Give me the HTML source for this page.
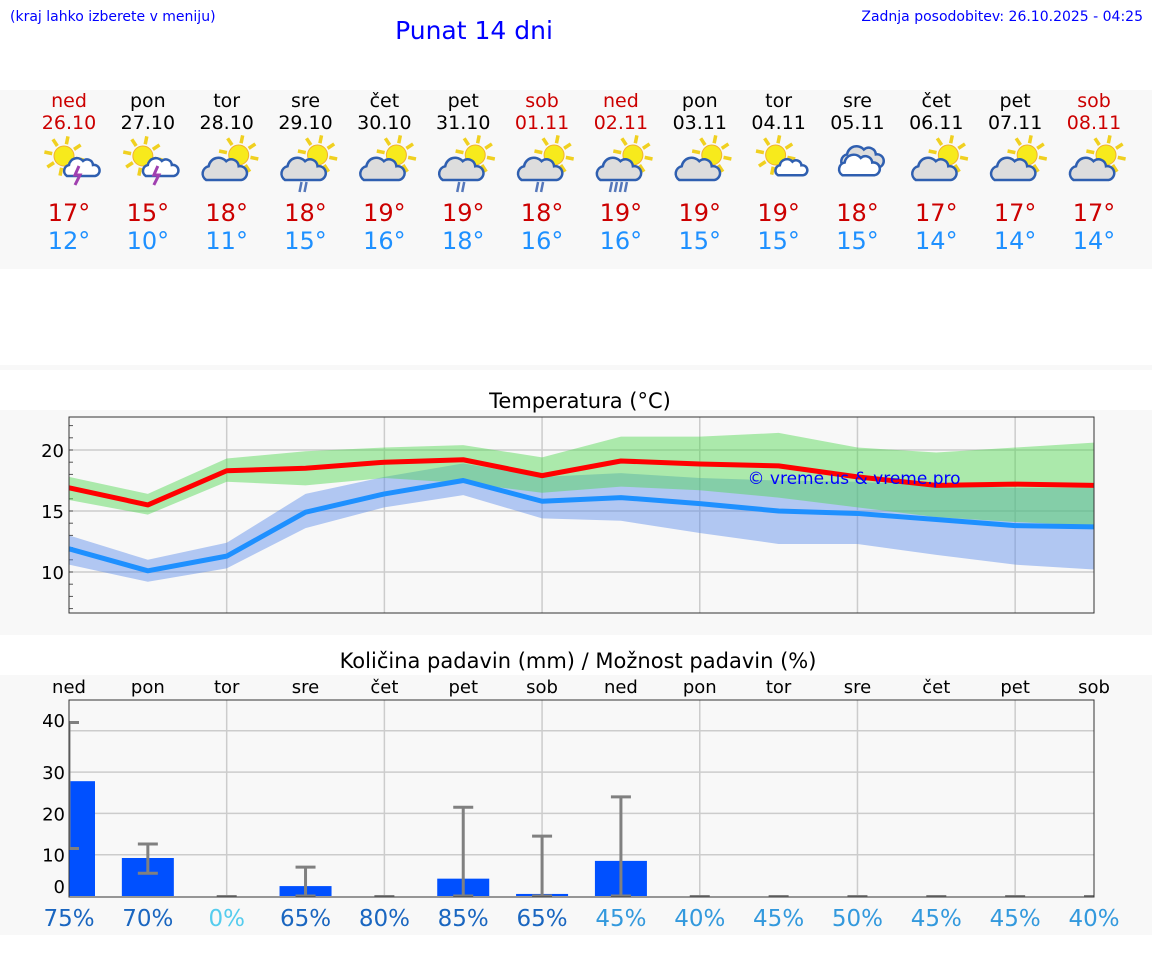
<!DOCTYPE html>
<html><head><meta charset="utf-8">
<style>
html,body{margin:0;padding:0;background:#fff;}
svg text{font-family:"DejaVu Sans","Liberation Sans",sans-serif;}
</style></head>
<body>
<svg id="page" width="1152" height="975" viewBox="0 0 1152 975" xmlns="http://www.w3.org/2000/svg">
<rect x="0" y="0" width="1152" height="975" fill="#fff"/>
<text x="10" y="21" font-size="14" fill="#0000ff" font-family="Liberation Sans">(kraj lahko izberete v meniju)</text>
<text x="474" y="39" font-size="25" fill="#0000ff" text-anchor="middle" font-family="Liberation Sans">Punat 14 dni</text>
<text x="1143" y="21" font-size="14" fill="#0000ff" text-anchor="end" font-family="Liberation Sans">Zadnja posodobitev: 26.10.2025 - 04:25</text>
<rect x="0" y="90" width="1152" height="179" fill="#f8f8f8"/>
<rect x="0" y="365" width="1152" height="5" fill="#f8f8f8"/>
<g id="days"></g>
<rect x="0" y="410" width="1152" height="225" fill="#f8f8f8"/>
<text x="580" y="408" font-size="21" text-anchor="middle" fill="#000">Temperatura (°C)</text>
<g id="temp"></g>
<rect x="0" y="675" width="1152" height="260" fill="#f8f8f8"/>
<text x="578" y="668" font-size="21" text-anchor="middle" fill="#000">Količina padavin (mm) / Možnost padavin (%)</text>
<g id="prec"></g>
</svg>
<script>
const dayNames=["ned","pon","tor","sre","čet","pet","sob","ned","pon","tor","sre","čet","pet","sob"];
const dates=["26.10","27.10","28.10","29.10","30.10","31.10","01.11","02.11","03.11","04.11","05.11","06.11","07.11","08.11"];
const weekend=[1,0,0,0,0,0,1,1,0,0,0,0,0,1];
const iconTypes=["sunstorm","sunstorm","cloudsun","rain","cloudsun","rain","rain","heavyrain","cloudsun","sunsmallcloud","overcast","cloudsun","cloudsun","cloudsun"];
const maxT=[17,15,18,18,19,19,18,19,19,19,18,17,17,17];
const minT=[12,10,11,15,16,18,16,16,15,15,15,14,14,14];
const tMax=[16.9,15.5,18.3,18.5,19.0,19.2,17.9,19.1,18.85,18.7,17.8,17.1,17.2,17.1];
const tMaxHi=[17.8,16.4,19.3,19.9,20.2,20.4,19.4,21.1,21.1,21.4,20.2,19.8,20.2,20.6];
const tMaxLo=[15.9,14.7,17.4,17.1,17.7,17.3,16.5,17.0,16.7,16.1,15.3,14.5,14.1,13.8];
const tMin=[11.9,10.1,11.3,14.9,16.4,17.5,15.8,16.1,15.6,15.0,14.8,14.3,13.8,13.7];
const tMinHi=[13.0,11.0,12.4,16.4,17.8,18.9,17.8,18.1,17.7,17.5,17.4,17.1,16.9,16.9];
const tMinLo=[10.6,9.2,10.3,13.6,15.3,16.3,14.4,14.2,13.2,12.3,12.3,11.4,10.6,10.2];
const tTicks=[10,15,20];
const precip=[27.8,9.2,0,2.4,0,4.2,0.5,8.5,0,0,0,0,0,0];
const precLo=[11.5,5.5,0,0,0,0,0,0,0,0,0,0,0,0];
const precHi=[42,12.6,0,7,0,21.5,14.5,24,0,0,0,0,0,0];
const chance=[75,70,0,65,80,85,65,45,40,45,50,45,45,40];
const pTicks=[0,10,20,30,40];

const NS="http://www.w3.org/2000/svg";
function mk(tag,attrs,parent,txt){const e=document.createElementNS(NS,tag);for(const k in attrs)e.setAttribute(k,attrs[k]);if(txt!==undefined)e.textContent=txt;parent.appendChild(e);return e;}
const X0=69,X1=1094,N=14;
const xd=i=>X0+i*(X1-X0)/(N-1);

// ---- day header
const gd=document.getElementById('days');
function sun(g,cx,cy,r){
  for(let k=0;k<8;k++){const a=k*Math.PI/4+0.2;mk('line',{x1:cx+Math.cos(a)*(r+2),y1:cy+Math.sin(a)*(r+2),x2:cx+Math.cos(a)*(r+10),y2:cy+Math.sin(a)*(r+10),stroke:'#f0d020','stroke-width':3.5},g);}
  mk('circle',{cx:cx,cy:cy,r:r,fill:'#f7ea1c',stroke:'#f0b030','stroke-width':1},g);
}
function cloud(g,cx,cy,s,fill){
  mk('path',{d:`M${cx-14*s} ${cy+8*s} a${6*s} ${6*s} 0 0 1 ${2*s} ${-11*s} a${8*s} ${8*s} 0 0 1 ${14*s} ${-4*s} a${6*s} ${6*s} 0 0 1 ${10*s} ${4*s} a${5*s} ${5*s} 0 0 1 ${2*s} ${11*s} z`,fill:fill,stroke:'#2f5fb0','stroke-width':2.5},g);
}
for(let i=0;i<N;i++){
  const x=xd(i);
  const g=mk('g',{},gd);
  
  
  const col=weekend[i]?'#cc0000':'#000';
  const t1=mk('text',{x:x,y:107,'font-size':19,'text-anchor':'middle',fill:col},g,dayNames[i]);
  
  
  const t2=mk('text',{x:x,y:129,'font-size':19,'text-anchor':'middle',fill:col},g,dates[i]);
  
  
  const ic=mk('g',{},g);
  
  
  const ty=iconTypes[i];
  if(ty==='sunstorm'){sun(ic,x-5,156,10);cloud(ic,x+12,168,1.0,'#fff');mk('path',{d:`M${x+10} 166 l-4 9 h5 l-5 10`,stroke:'#a040b0','stroke-width':3,fill:'none'},ic);}
  else if(ty==='sunsmallcloud'){sun(ic,x-3,155,10);cloud(ic,x+12,168,0.9,'#fff');}
  else if(ty==='overcast'){cloud(ic,x+4,158,1.2,'#ddd');cloud(ic,x+1,166,1.15,'#fff');}
  else{sun(ic,x+12,155,10);cloud(ic,x-3,170,1.25,'#ddd');
    if(ty==='rain'){mk('path',{d:`M${x-4} 182 l-2 10 M${x+1} 182 l-2 10`,stroke:'#5577bb','stroke-width':2.5},ic);}
    if(ty==='heavyrain'){mk('path',{d:`M${x-9} 182 l-2 10 M${x-4} 182 l-2 10 M${x+1} 182 l-2 10 M${x+6} 182 l-2 10`,stroke:'#5577bb','stroke-width':2.5},ic);}
  }
  const a=mk('text',{x:x,y:221,'font-size':24,'text-anchor':'middle',fill:'#cc0000'},g,maxT[i]+'°');
  
  
  const b=mk('text',{x:x,y:249,'font-size':24,'text-anchor':'middle',fill:'#1e90ff'},g,minT[i]+'°');
  
  
}

// ---- temperature chart
const gt=document.getElementById('temp');
const TY0=417,TY1=613;
const ty=v=>450-(v-20)*12.2;
mk('rect',{x:X0,y:TY0,width:X1-X0,height:TY1-TY0,fill:'#f8f8f8'},gt);
for(let i=2;i<N-1;i+=2){mk('line',{x1:xd(i),y1:TY0,x2:xd(i),y2:TY1,stroke:'#ccc','stroke-width':1.5},gt);}
tTicks.forEach(v=>{mk('line',{x1:X0,y1:ty(v),x2:X1,y2:ty(v),stroke:'#ccc','stroke-width':1.5},gt);
  const t=mk('text',{x:X0-5,y:ty(v)+7,'font-size':18,'text-anchor':'end',fill:'#000'},gt,String(v));
  
  });
for(let v=7;v<=22;v++){mk('line',{x1:X0,y1:ty(v),x2:X0+4,y2:ty(v),stroke:'#555','stroke-width':1},gt);}
function band(hi,lo,fill,name){
  let d='M'+hi.map((v,i)=>xd(i)+' '+ty(v)).join(' L')+' L'+lo.map((v,i)=>xd(i)+' '+ty(v)).reverse().join(' L')+'Z';
  const p=mk('path',{d:d,fill:fill},gt);
  
  
}
band(tMinHi,tMinLo,'rgba(90,140,235,0.45)','min-temp-range');
band(tMaxHi,tMaxLo,'rgba(77,214,77,0.45)','max-temp-range');
function line(arr,col,name){
  const p=mk('polyline',{points:arr.map((v,i)=>xd(i)+','+ty(v)).join(' '),fill:'none',stroke:col,'stroke-width':5,'stroke-linejoin':'round'},gt);
  
  
}
line(tMax,'#ff0000','max-temp-line');
line(tMin,'#1e90ff','min-temp-line');
const wm=mk('text',{x:854,y:484,'font-size':17,'text-anchor':'middle',fill:'#0000ff','font-family':'Liberation Sans'},gt,'© vreme.us & vreme.pro');


mk('rect',{x:X0,y:TY0,width:X1-X0,height:TY1-TY0,fill:'none',stroke:'#333','stroke-width':1},gt);

// ---- precipitation chart
const gp=document.getElementById('prec');
const PY0=700,PY1=897;
const py=v=>896-v*4.13;
mk('rect',{x:X0,y:PY0,width:X1-X0,height:PY1-PY0,fill:'#f8f8f8'},gp);
for(let i=2;i<N-1;i+=2){mk('line',{x1:xd(i),y1:PY0,x2:xd(i),y2:PY1,stroke:'#ccc','stroke-width':1.5},gp);}
pTicks.forEach(v=>{if(v>0)mk('line',{x1:X0,y1:py(v),x2:X1,y2:py(v),stroke:'#ccc','stroke-width':1.5},gp);
  const t=mk('text',{x:X0-4,y:(v===0?893:v===40?727:py(v)+7),'font-size':18,'text-anchor':'end',fill:'#000'},gp,String(v));
  
  });
const cp=mk('clipPath',{id:'pc'},gp);mk('rect',{x:X0,y:PY0,width:X1-X0,height:PY1-PY0},cp);
const gb=mk('g',{'clip-path':'url(#pc)'},gp);
for(let i=0;i<N;i++){
  const x=xd(i);
  const dn=mk('text',{x:x,y:693,'font-size':18,'text-anchor':'middle',fill:'#000'},gp,dayNames[i]);
  
  
  if(precip[i]>0){
    const r=mk('rect',{x:x-26,y:py(precip[i]),width:52,height:896-py(precip[i]),fill:'#0050ff'},gb);
    
    
  }
  if(precHi[i]>0){
    const e=mk('path',{d:`M${x} ${py(precLo[i])} V${py(precHi[i])} M${x-10} ${py(precHi[i])} h20 M${x-10} ${py(precLo[i])} h20`,stroke:'#808080','stroke-width':3,fill:'none'},gb);
    
    
  } else {
    mk('line',{x1:x-10,y1:896,x2:x+10,y2:896,stroke:'#808080','stroke-width':2},gb);
  }
  const c=chance[i];
  const col=c===0?'#55ccee':(c<=50?'#3399dd':'#1a66c0');
  const pt=mk('text',{x:x,y:926,'font-size':23,'text-anchor':'middle',fill:col},gp,c+'%');
  
  
}
mk('rect',{x:X0,y:PY0,width:X1-X0,height:PY1-PY0,fill:'none',stroke:'#333','stroke-width':1},gp);
</script>
</body></html>
